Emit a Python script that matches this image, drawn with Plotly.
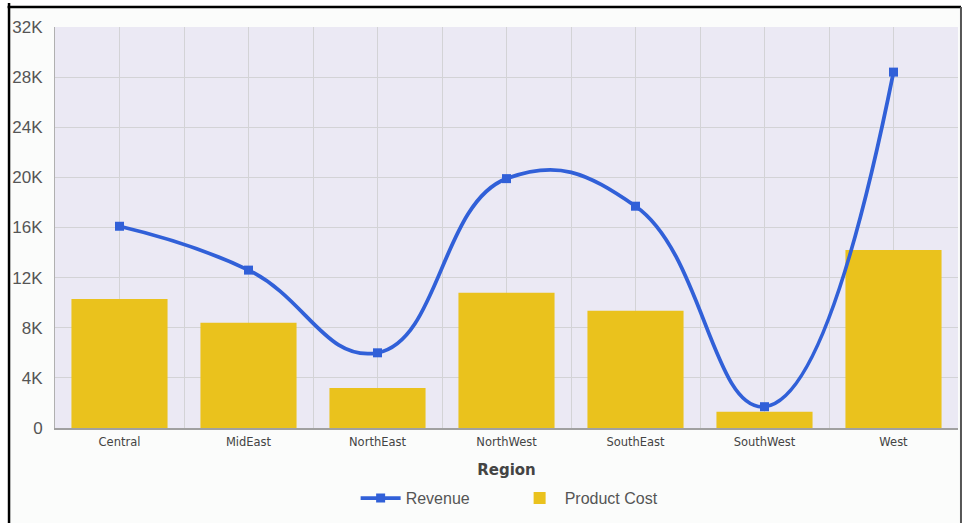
import plotly.graph_objects as go

categories = ["Central", "MidEast", "NorthEast", "NorthWest", "SouthEast", "SouthWest", "West"]
revenue = [16100, 12600, 6000, 19900, 17700, 1700, 28400]
product_cost = [10300, 8400, 3200, 10800, 9350, 1300, 14200]
y_tick_vals = [0, 4000, 8000, 12000, 16000, 20000, 24000, 28000, 32000]
y_tick_text = ["0", "4K", "8K", "12K", "16K", "20K", "24K", "28K", "32K"]

xpos = list(range(len(categories)))

fig = go.Figure()
fig.add_trace(go.Bar(
    x=xpos, y=product_cost, name="Product Cost",
    marker=dict(color="#EAC21D", line=dict(width=0)),
    width=0.745, legendrank=2,
))
fig.add_trace(go.Scatter(
    x=xpos, y=revenue, name="Revenue", mode="lines+markers",
    line=dict(color="#3160D8", width=3.8, shape="spline", smoothing=1.3),
    marker=dict(symbol="square", size=9, color="#3160D8"),
    legendrank=1,
))

gridc = "#D3D3D6"
fig.update_layout(
    width=964, height=523,
    margin=dict(l=55, r=6, t=27, b=95),
    paper_bgcolor="#FBFCFB",
    plot_bgcolor="#EBE9F4",
    font=dict(family="Liberation Sans, Arial, sans-serif", color="#555555"),
    showlegend=True,
    legend=dict(
        orientation="h", x=0.509, xanchor="center", y=-0.175, yanchor="middle",
        font=dict(size=16, color="#555555"), bgcolor="rgba(0,0,0,0)",
        entrywidth=104, itemwidth=40,
    ),
    xaxis=dict(
        range=[-0.5, len(categories) - 0.5],
        tickvals=xpos, ticktext=categories,
        tickfont=dict(family="DejaVu Sans", size=11.5, color="#444444"),
        showgrid=True, gridcolor=gridc, gridwidth=1,
        minor=dict(dtick=0.5, showgrid=True, gridcolor=gridc, gridwidth=1),
        showline=True, linecolor="#A0A0A0", linewidth=1.5,
        ticks="", zeroline=False, ticklabelstandoff=2,
        title=dict(text="<b>Region</b>", font=dict(family="DejaVu Sans", size=15, color="#444444"), standoff=17),
    ),
    yaxis=dict(
        range=[0, 32000], tickvals=y_tick_vals, ticktext=y_tick_text,
        tickfont=dict(size=17, color="#555555"),
        showgrid=True, gridcolor=gridc, gridwidth=1,
        showline=True, linecolor="#B0B0B0", linewidth=1,
        ticks="", zeroline=False, ticklabelstandoff=8,
    ),
    shapes=[
        # white margins outside the frame
        dict(type="rect", xref="paper", yref="paper", x0=-0.07, x1=-0.0509, y0=-0.4, y1=1.1,
             fillcolor="#FFFFFF", line=dict(width=0)),
        dict(type="rect", xref="paper", yref="paper", x0=-0.07, x1=1.02, y0=1.0499, y1=1.1,
             fillcolor="#FFFFFF", line=dict(width=0)),
        dict(type="rect", xref="paper", yref="paper", x0=1.0033, x1=1.02, y0=-0.4, y1=1.1,
             fillcolor="#FFFFFF", line=dict(width=0)),
        # frame
        dict(type="line", xref="paper", yref="paper", x0=-0.0509, x1=-0.0509, y0=1.06, y1=-0.4,
             line=dict(color="#000000", width=2.5)),
        dict(type="line", xref="paper", yref="paper", x0=-0.0525, x1=1.0033, y0=1.0499, y1=1.0499,
             line=dict(color="#000000", width=2.5)),
        dict(type="line", xref="paper", yref="paper", x0=1.0033, x1=1.0033, y0=1.05, y1=-0.4,
             line=dict(color="#555555", width=2)),
    ],
)

fig.write_html(
    "out.html",
    config={"displayModeBar": False},
    post_script="document.body.style.margin='0';document.documentElement.style.overflow='hidden';",
)
